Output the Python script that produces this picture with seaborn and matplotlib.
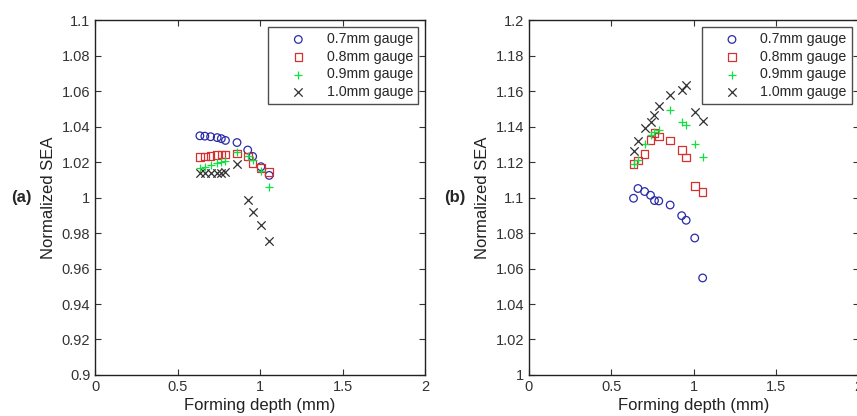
import numpy as np
import matplotlib
matplotlib.use('Agg')
import matplotlib.pyplot as plt
import seaborn as sns
from matplotlib.ticker import FormatStrFormatter

# forming depth (mm), shared by every gauge
depth_a = [0.635, 0.665, 0.70, 0.74, 0.765, 0.79, 0.86, 0.925, 0.955, 1.005, 1.055]
depth_b = [0.635, 0.662, 0.702, 0.738, 0.762, 0.788, 0.857, 0.927, 0.954, 1.006, 1.054]

# (a) normalized SEA
sea_a_07 = [1.0348, 1.0346, 1.0343, 1.0338, 1.0332, 1.0322, 1.0310, 1.0268, 1.0232, 1.0174, 1.0125]
sea_a_08 = [1.0230, 1.0232, 1.0233, 1.0239, 1.0243, 1.0243, 1.0249, 1.0232, 1.0193, 1.0165, 1.0145]
sea_a_09 = [1.0165, 1.0170, 1.0183, 1.0193, 1.0202, 1.0206, 1.0258, 1.0235, 1.0211, 1.0148, 1.0061]
sea_a_10 = [1.0140, 1.0140, 1.0140, 1.0140, 1.0140, 1.0144, 1.0187, 0.9986, 0.9916, 0.9845, 0.9757]

# (b) normalized SEA
sea_b_07 = [1.0996, 1.1051, 1.1034, 1.1013, 1.0983, 1.0981, 1.0958, 1.0898, 1.0872, 1.0772, 1.0547]
sea_b_08 = [1.1189, 1.1208, 1.1247, 1.1325, 1.1365, 1.1345, 1.1321, 1.1268, 1.1226, 1.1066, 1.1032]
sea_b_09 = [1.1190, 1.1210, 1.1300, 1.1350, 1.1370, 1.1380, 1.1494, 1.1425, 1.1410, 1.1300, 1.1230]
sea_b_10 = [1.1264, 1.1320, 1.1390, 1.1425, 1.1468, 1.1515, 1.1580, 1.1606, 1.1632, 1.1480, 1.1432]

labels = ['0.7mm gauge', '0.8mm gauge', '0.9mm gauge', '1.0mm gauge']
markers = ['o', 's', '+', 'x']
colors = ['#2a2aa8', '#d83030', '#10e040', '#303030']

sns.set_style('ticks')
plt.rcParams['font.family'] = ['Liberation Sans', 'DejaVu Sans']

fig = plt.figure(figsize=(8.57, 4.16), dpi=100)
ax1 = fig.add_axes([0.111, 0.0986, 0.385, 0.853])
ax2 = fig.add_axes([0.617, 0.0986, 0.385, 0.853])


def draw_panel(ax, depth, series, ylim, yticks, tag):
    for vals, lab, m, c in zip(series, labels, markers, colors):
        if m in ('o', 's'):
            sns.scatterplot(x=depth, y=vals, ax=ax, marker=m, s=30, label=lab,
                            color=c, facecolor='none', edgecolor=c, linewidth=0.9)
        else:
            sns.scatterplot(x=depth, y=vals, ax=ax, marker=m, s=36, label=lab,
                            color=c, linewidth=0.9)
    ax.set_xlim(0, 2)
    ax.set_ylim(*ylim)
    ax.set_xticks([0, 0.5, 1, 1.5, 2])
    ax.set_yticks(yticks)
    ax.xaxis.set_major_formatter(FormatStrFormatter('%g'))
    ax.yaxis.set_major_formatter(FormatStrFormatter('%g'))
    ax.tick_params(direction='in', top=True, right=True, length=4, width=0.8,
                   labelsize=10.5, labelcolor='#333333', color='#333333')
    for sp in ax.spines.values():
        sp.set_color('#222222')
        sp.set_linewidth(1.0)
    ax.set_xlabel('Forming depth (mm)', fontsize=12, color='#222222', labelpad=3)
    ax.set_ylabel('Normalized SEA', fontsize=12, color='#222222', labelpad=4)
    leg = ax.legend(loc='upper right', fontsize=10.2, frameon=True, fancybox=False,
                    edgecolor='#222222', handlelength=3.6, handletextpad=0.2,
                    labelspacing=0.25, borderpad=0.35, borderaxespad=0.5,
                    scatterpoints=1)
    leg.get_frame().set_linewidth(1.0)
    ax.text(-0.225, 0.5, tag, transform=ax.transAxes, fontsize=12,
            fontweight='bold', ha='center', va='center')


draw_panel(ax1, depth_a, [sea_a_07, sea_a_08, sea_a_09, sea_a_10],
           (0.9, 1.1), np.arange(0.9, 1.1001, 0.02), '(a)')
draw_panel(ax2, depth_b, [sea_b_07, sea_b_08, sea_b_09, sea_b_10],
           (1.0, 1.2), np.arange(1.0, 1.2001, 0.02), '(b)')

plt.savefig('out.png', dpi=100)
